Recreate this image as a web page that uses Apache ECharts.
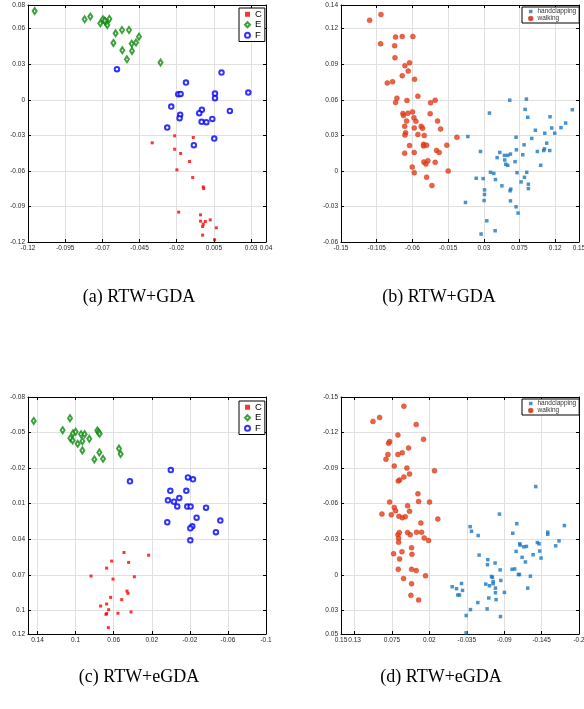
<!DOCTYPE html>
<html>
<head>
<meta charset="utf-8">
<script src="https://cdn.jsdelivr.net/npm/echarts@6/dist/echarts.min.js"></script>
<style>
  html, body { margin: 0; padding: 0; background: #fff; }
  #chart { width: 584px; height: 709px; }
</style>
</head>
<body>
<div id="chart"></div>
<script>
// panel (a) RTW+GDA
const aC = [[-0.0365,-0.0363],[-0.0214,-0.0304],[-0.0089,-0.0318],[-0.0214,-0.0417],[-0.0174,-0.0453],
  [-0.0114,-0.0521],[-0.0199,-0.0591],[-0.0093,-0.0656],[-0.0022,-0.0735],[-0.0019,-0.0749],
  [-0.0187,-0.0948],[-0.0040,-0.0971],[-0.0040,-0.1024],[0.0025,-0.1013],[-0.0008,-0.1027],
  [-0.0022,-0.1049],[-0.0026,-0.1069],[0.0066,-0.1080],[-0.0026,-0.1142],[0.0054,-0.1181]];
const aE = [[-0.1155,0.0749],[-0.0819,0.0679],[-0.0781,0.0702],[-0.0714,0.0645],[-0.0696,0.0679],
  [-0.0680,0.0659],[-0.0674,0.0651],[-0.0667,0.0631],[-0.0653,0.0682],[-0.0684,0.0668],
  [-0.0611,0.0561],[-0.0568,0.0589],[-0.0521,0.0589],[-0.0454,0.0533],[-0.0626,0.0480],
  [-0.0503,0.0474],[-0.0474,0.0483],[-0.0566,0.0418],[-0.0501,0.0412],[-0.0535,0.0342],[-0.0309,0.0314]];
const aF = [[-0.0602,0.0258],[-0.0138,0.0145],[0.0101,0.0230],[0.0281,0.0061],[-0.0190,0.0047],
  [-0.0174,0.0050],[0.0057,0.0053],[0.0057,0.0014],[-0.0237,-0.0057],[-0.0177,-0.0127],
  [-0.0181,-0.0155],[-0.0031,-0.0085],[-0.0049,-0.0113],[0.0157,-0.0094],[0.0039,-0.0161],
  [-0.0033,-0.0186],[-0.0001,-0.0189],[-0.0264,-0.0234],[-0.0085,-0.0383],[0.0052,-0.0327]];

// panel (b) RTW+GDA
const bWalk = [[-0.1139,0.1271],[-0.0996,0.1319],[-0.1001,0.1073],[-0.0812,0.1129],[-0.0728,0.1134],
  [-0.0594,0.1134],[-0.0824,0.1056],[-0.0820,0.0955],[-0.0694,0.0888],[-0.0636,0.0912],
  [-0.0652,0.0843],[-0.0728,0.0803],[-0.0573,0.0773],[-0.0917,0.0742],[-0.0850,0.0753],
  [-0.0795,0.0614],[-0.0812,0.0578],[-0.0669,0.0595],[-0.0531,0.0631],[-0.0313,0.0597],
  [-0.0371,0.0575],[-0.0720,0.0484],[-0.0712,0.0467],[-0.0657,0.0487],[-0.0598,0.0498],
  [-0.0581,0.0448],[-0.0556,0.0418],[-0.0673,0.0421],[-0.0376,0.0483],[-0.0283,0.0421],
  [-0.0698,0.0376],[-0.0489,0.0376],[-0.0577,0.0362],[-0.0472,0.0360],[-0.0245,0.0354],
  [-0.0686,0.0321],[-0.0694,0.0302],[-0.0531,0.0308],[-0.0451,0.0299],[-0.0039,0.0284],
  [-0.0636,0.0214],[-0.0459,0.0225],[-0.0459,0.0211],[-0.0421,0.0217],[-0.0166,0.0217],
  [-0.0296,0.0173],[-0.0262,0.0156],[-0.0698,0.0150],[-0.0577,0.0156],[-0.0455,0.0075],
  [-0.0405,0.0086],[-0.0430,0.0058],[-0.0313,0.0072],[-0.0602,0.0032],[-0.0577,-0.0015],
  [-0.0149,-0.0001],[-0.0421,-0.0053],[-0.0354,-0.0124]];
const bHand = [[0.0099,0.0290],[0.0371,0.0488],[0.0627,0.0597],[0.0837,0.0606],[0.0821,0.0519],
  [0.0854,0.0452],[0.1416,0.0516],[0.1135,0.0457],[0.1332,0.0404],[0.1156,0.0362],
  [0.1273,0.0365],[0.0950,0.0343],[0.1194,0.0318],[0.1068,0.0318],[0.0904,0.0274],
  [0.0707,0.0284],[0.1093,0.0234],[0.0808,0.0220],[0.0711,0.0178],[0.1064,0.0186],
  [0.1055,0.0172],[0.1131,0.0172],[0.0975,0.0164],[0.0258,0.0164],[0.0501,0.0156],
  [0.0791,0.0136],[0.0636,0.0142],[0.0560,0.0131],[0.0602,0.0131],[0.0468,0.0112],
  [0.0564,0.0092],[0.0694,0.0078],[0.0577,0.0056],[0.0602,0.0047],[0.1017,0.0047],
  [0.0384,-0.0012],[0.0426,-0.0021],[0.0719,-0.0015],[0.0841,-0.0012],[0.0204,-0.0062],
  [0.0292,-0.0065],[0.0447,-0.0073],[0.0812,-0.0054],[0.0770,-0.0093],[0.0862,-0.0112],
  [0.0862,-0.0149],[0.0528,-0.0126],[0.0640,-0.0154],[0.0631,-0.0168],[0.0309,-0.0160],
  [0.0309,-0.0199],[0.0304,-0.0250],[0.0636,-0.0253],[0.0069,-0.0266],[0.0707,-0.0303],
  [0.0732,-0.0356],[0.0338,-0.0421],[0.0443,-0.0505],[0.0266,-0.0533]];

// panel (c) RTW+eGDA
const cC = [[0.0492,0.0512],[0.0233,0.0535],[0.0621,0.0585],[0.0443,0.0596],[0.0674,0.0644],
  [0.0838,0.0711],[0.0383,0.0717],[0.0607,0.0737],[0.0460,0.0838],[0.0450,0.0857],
  [0.0632,0.0891],[0.0516,0.0910],[0.0737,0.0964],[0.0674,0.0947],[0.0653,0.0995],
  [0.0674,0.1028],[0.0681,0.1034],[0.0555,0.1025],[0.0418,0.1014],[0.0656,0.1146]];
const cE = [[0.1440,-0.0598],[0.1059,-0.0621],[0.1136,-0.0520],[0.1055,-0.0452],[0.1027,-0.0494],
  [0.0999,-0.0506],[0.1031,-0.0433],[0.0978,-0.0405],[0.0943,-0.0486],[0.0905,-0.0486],
  [0.0929,-0.0427],[0.0856,-0.0447],[0.0929,-0.0349],[0.0772,-0.0517],[0.0758,-0.0503],
  [0.0747,-0.0489],[0.0751,-0.0332],[0.0803,-0.0273],[0.0712,-0.0278],[0.0544,-0.0365],[0.0527,-0.0318]];
const cF = [[0.0429,-0.0088],[0.0000,-0.0183],[-0.0180,-0.0121],[-0.0233,-0.0105],[0.0005,-0.0008],
  [-0.0163,-0.0008],[0.0030,0.0072],[-0.0033,0.0083],[-0.0089,0.0052],[-0.0068,0.0123],
  [-0.0173,0.0125],[-0.0208,0.0125],[-0.0370,0.0134],[-0.0271,0.0218],[0.0037,0.0257],
  [-0.0226,0.0291],[-0.0205,0.0308],[-0.0520,0.0243],[-0.0474,0.0341],[-0.0205,0.0409]];

// panel (d) RTW+eGDA
const dWalk = [[0.1030,-0.1294],[0.0932,-0.1327],[0.0575,-0.1422],[0.0394,-0.1268],[0.0663,-0.1179],
  [0.0286,-0.1143],[0.0785,-0.1124],[0.0800,-0.1110],[0.0506,-0.1070],[0.0810,-0.1015],
  [0.0663,-0.1015],[0.0599,-0.1029],[0.0839,-0.0975],[0.0717,-0.0917],[0.0531,-0.0900],
  [0.0492,-0.0850],[0.0125,-0.0878],[0.0575,-0.0825],[0.0638,-0.0800],[0.0658,-0.0791],
  [0.0369,-0.0683],[0.0359,-0.0618],[0.0198,-0.0613],[0.0785,-0.0613],[0.0717,-0.0568],
  [0.0697,-0.0540],[0.0521,-0.0582],[0.0492,-0.0535],[0.0898,-0.0512],[0.0761,-0.0507],
  [0.0648,-0.0493],[0.0599,-0.0482],[0.0555,-0.0490],[0.0076,-0.0470],[0.0325,-0.0437],
  [0.0663,-0.0337],[0.0643,-0.0356],[0.0653,-0.0309],[0.0653,-0.0275],[0.0521,-0.0356],
  [0.0482,-0.0337],[0.0389,-0.0359],[0.0315,-0.0359],[0.0276,-0.0311],[0.0212,-0.0289],
  [0.0462,-0.0228],[0.0604,-0.0194],[0.0727,-0.0178],[0.0457,-0.0172],[0.0638,-0.0133],
  [0.0658,-0.0046],[0.0462,-0.0046],[0.0394,-0.0035],[0.0580,0.0032],[0.0257,0.0009],
  [0.0462,0.0076],[0.0472,0.0174],[0.0359,0.0213]];
const dHand = [[-0.1364,-0.0744],[-0.0830,-0.0512],[-0.1785,-0.0415],[-0.1085,-0.0431],[-0.1026,-0.0350],
  [-0.0399,-0.0406],[-0.0419,-0.0367],[-0.0517,-0.0331],[-0.1540,-0.0359],[-0.1540,-0.0342],
  [-0.1706,-0.0286],[-0.1388,-0.0272],[-0.1413,-0.0261],[-0.1129,-0.0261],[-0.1134,-0.0250],
  [-0.1075,-0.0197],[-0.1227,-0.0239],[-0.1188,-0.0236],[-0.1422,-0.0200],[-0.1657,-0.0244],
  [-0.1325,-0.0169],[-0.1163,-0.0147],[-0.1442,-0.0141],[-0.1212,-0.0108],[-0.0531,-0.0166],
  [-0.0659,-0.0127],[-0.0766,-0.0099],[-0.0654,-0.0085],[-0.0840,-0.0041],[-0.1016,-0.0046],
  [-0.1055,-0.0049],[-0.1109,-0.0002],[-0.1124,-0.0002],[-0.1285,0.0012],[-0.0727,0.0021],
  [-0.0713,0.0015],[-0.0737,0.0057],[-0.0737,0.0076],[-0.0850,0.0048],[-0.0629,0.0079],
  [-0.0683,0.0093],[-0.0771,0.0113],[-0.0771,0.0152],[-0.0903,0.0149],[-0.0272,0.0074],
  [-0.0135,0.0101],[-0.0199,0.0118],[-0.0287,0.0132],[-0.0218,0.0171],[-0.0243,0.0171],
  [-0.0673,0.0196],[-0.0781,0.0210],[-0.1246,0.0113],[-0.0512,0.0235],[-0.0404,0.0294],
  [-0.0649,0.0288],[-0.0341,0.0344],[-0.0845,0.0353],[-0.0340,0.0490]];

// axis ranges [min, max, interval]
const xRanges = [[-0.12, 0.04, 0.025], [-0.15, 0.15, 0.045], [-0.1, 0.15, 0.04], [-0.2, 0.15, 0.055]];
const yRanges = [[-0.12, 0.08, 0.03], [-0.06, 0.14, 0.03], [-0.08, 0.12, 0.03], [-0.15, 0.05, 0.03]];
const inverted = [false, false, true, true];
const captions = ['(a) RTW+GDA', '(b) RTW+GDA', '(c) RTW+eGDA', '(d) RTW+eGDA'];

const chart = echarts.init(document.getElementById('chart'), null, { renderer: 'canvas' });

const grids = [
  { left: 28, top: 5, width: 238, height: 237 },
  { left: 341, top: 5, width: 238, height: 237 },
  { left: 28, top: 397, width: 238, height: 237 },
  { left: 341, top: 397, width: 238, height: 237 }
].map(g => Object.assign({ show: false, outerBoundsMode: 'none', containLabel: false }, g));

const round4 = v => Math.round(v * 10000) / 10000;
const fmt = v => String(round4(v));

// tick values counted from min by interval, plus the max end (as MATLAB shows it)
function tickValues(range) {
  const out = [];
  for (let v = range[0]; v < range[1] - 1e-9; v += range[2]) out.push(round4(v));
  out.push(range[1]);
  return out;
}

function makeAxis(i, range, pos, mirror) {
  const ticks = tickValues(range);
  return {
    type: 'value',
    gridIndex: i,
    min: range[0],
    max: range[1],
    interval: range[2],
    inverse: inverted[i],
    position: pos,
    axisLine: { show: true, onZero: false, lineStyle: { color: '#000', width: 1 } },
    axisTick: { show: true, inside: true, length: 3, customValues: ticks, lineStyle: { color: '#000', width: 1 } },
    axisLabel: {
      show: !mirror, fontSize: 6.5, color: '#262626', margin: 3,
      fontFamily: 'Liberation Sans', formatter: fmt, hideOverlap: false,
      customValues: ticks
    },
    splitLine: { show: !mirror, lineStyle: { color: '#e0e0e0', width: 1 } }
  };
}

const xAxes = [], yAxes = [];
for (let i = 0; i < 4; i++) {
  xAxes.push(makeAxis(i, xRanges[i], 'bottom', false));
  xAxes.push(makeAxis(i, xRanges[i], 'top', true));
  yAxes.push(makeAxis(i, yRanges[i], 'left', false));
  yAxes.push(makeAxis(i, yRanges[i], 'right', true));
}

function sC(i, data) {
  return { name: 'C', type: 'scatter', xAxisIndex: 2 * i, yAxisIndex: 2 * i, data,
    symbol: 'rect', symbolSize: 3, itemStyle: { color: '#ff0000' } };
}
function sE(i, data) {
  return { name: 'E', type: 'scatter', xAxisIndex: 2 * i, yAxisIndex: 2 * i, data,
    symbol: 'emptyDiamond', symbolSize: [4, 6], itemStyle: { color: '#0a8a0a', borderWidth: 1 } };
}
function sF(i, data) {
  return { name: 'F', type: 'scatter', xAxisIndex: 2 * i, yAxisIndex: 2 * i, data,
    symbol: 'emptyCircle', symbolSize: 4.5, itemStyle: { color: '#0000ff', borderWidth: 1 } };
}
function sHand(i, data) {
  return { name: 'handclapping', type: 'scatter', xAxisIndex: 2 * i, yAxisIndex: 2 * i, data,
    symbol: 'rect', symbolSize: 3.5, itemStyle: { color: '#1a78c2' } };
}
function sWalk(i, data) {
  return { name: 'walking', type: 'scatter', xAxisIndex: 2 * i, yAxisIndex: 2 * i, data,
    symbol: 'circle', symbolSize: 5, itemStyle: { color: '#e83c18', borderColor: '#c8361a', borderWidth: 0.5 } };
}

function legendCEF(left, top) {
  return {
    data: ['C', 'E', 'F'], orient: 'vertical', left, top,
    itemWidth: 5, itemHeight: 5, itemGap: 0,
    padding: [1, 3, 1, 5],
    backgroundColor: '#fff', borderColor: '#000', borderWidth: 1,
    textStyle: { fontSize: 9.5, lineHeight: 10.5, color: '#000', fontFamily: 'Liberation Sans' },
    selectedMode: false
  };
}
function legendHW(left, top) {
  return {
    data: ['handclapping', 'walking'], orient: 'vertical', left, top,
    itemWidth: 3.5, itemHeight: 3.5, itemGap: 0,
    padding: [1, 3, 1, 6],
    backgroundColor: '#fff', borderColor: '#000', borderWidth: 1,
    textStyle: { fontSize: 6.5, lineHeight: 7, color: '#333', fontFamily: 'Liberation Sans' },
    selectedMode: false
  };
}

const capPos = [[139, 288], [439, 288], [139, 668], [441, 668]];

chart.setOption({
  animation: false,
  backgroundColor: '#fff',
  grid: grids,
  xAxis: xAxes,
  yAxis: yAxes,
  title: captions.map((t, i) => ({
    text: t, left: capPos[i][0], top: capPos[i][1], textAlign: 'center', padding: 0,
    textStyle: { fontFamily: 'Liberation Serif', fontSize: 18, fontWeight: 'normal', color: '#000' }
  })),
  legend: [legendCEF(239, 8), legendHW(522, 7), legendCEF(239, 401), legendHW(522, 399)],
  series: [
    sC(0, aC), sE(0, aE), sF(0, aF),
    sHand(1, bHand), sWalk(1, bWalk),
    sC(2, cC), sE(2, cE), sF(2, cF),
    sHand(3, dHand), sWalk(3, dWalk)
  ]
});
</script>
</body>
</html>
